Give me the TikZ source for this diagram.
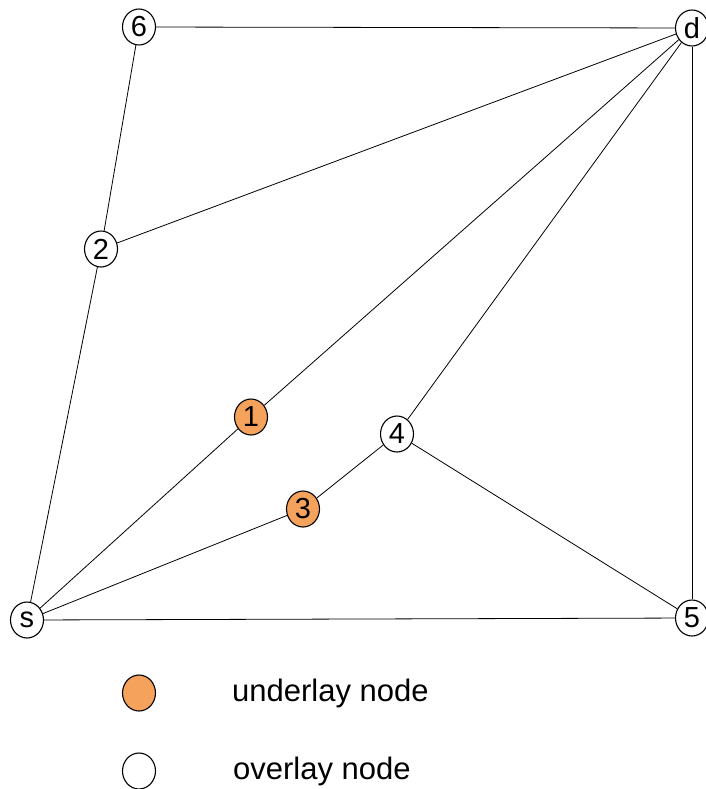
\documentclass[tikz,border=0pt]{standalone}
\usepackage{fontspec}
\setmainfont{Liberation Sans}
\usetikzlibrary{shapes.geometric}
\definecolor{under}{RGB}{245,162,92}
\tikzset{
  vnode/.style={ellipse,draw=black,line width=1.1pt,minimum width=33pt,minimum height=36pt,inner sep=0pt,font=\fontsize{29}{29}\selectfont},
  unode/.style={vnode,fill=under},
  onode/.style={vnode,fill=white},
  edge/.style={draw=black,line width=0.8pt},
  legtext/.style={anchor=west,inner sep=0pt,font=\fontsize{31}{31}\selectfont}
}
\begin{document}
\begin{tikzpicture}[x=1pt,y=-1pt]
\useasboundingbox (0,0) rectangle (706,789);
\node[onode] (n6) at (139,27) {6};
\node[onode] (d) at (692,28) {d};
\node[onode] (n2) at (101,249) {2};
\node[unode] (n1) at (251,417) {1};
\node[onode] (n4) at (397,434) {4};
\node[unode] (n3) at (303,509) {3};
\node[onode] (s) at (27,620) {s};
\node[onode] (n5) at (692,618) {5};
\draw[edge] (n6) -- (d);
\draw[edge] (n6) -- (n2);
\draw[edge] (n2) -- (d);
\draw[edge] (n2) -- (s);
\draw[edge] (s) -- (n1);
\draw[edge] (n1) -- (d);
\draw[edge] (s) -- (n3);
\draw[edge] (n3) -- (n4);
\draw[edge] (n4) -- (d);
\draw[edge] (n4) -- (n5);
\draw[edge] (s) -- (n5);
\draw[edge] (d) -- (n5);
\node[unode] (lu) at (139,693) {};
\node[onode] (lo) at (139,771) {};
\node[legtext] (tu) at (232,693) {underlay node};
\node[legtext] (to) at (233,771) {overlay node};
\end{tikzpicture}
\end{document}
